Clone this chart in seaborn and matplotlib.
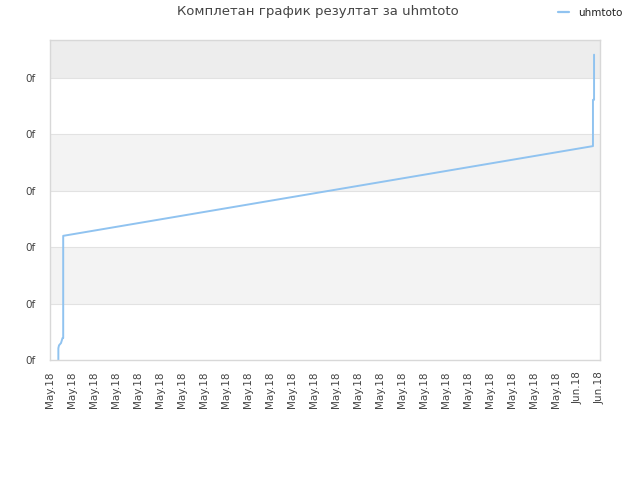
import matplotlib
matplotlib.use("Agg")
import matplotlib.pyplot as plt
import seaborn as sns
import numpy as np
import pandas as pd
from matplotlib.lines import Line2D

title = "Комплетан график резултат за uhmtoto"
series_name = "uhmtoto"
x_labels = ["May.18"] * 24 + ["Jun.18"] * 2
y_labels = ["0f"] * 6
# day offsets from first label, score values
days = [0.38, 0.38, 0.41, 0.50, 0.57, 0.60, 0.60, 0.60, 0.60, 24.68, 24.68, 24.73, 24.73]
scores = [0.00, 0.21, 0.26, 0.30, 0.39, 0.39, 1.0, 1.6, 2.20, 3.79, 4.61, 4.61, 5.41]

sns.set_theme(style="white")
plt.rcParams['font.family'] = ['DejaVu Sans']

fig = plt.figure(figsize=(6.4, 4.8), dpi=100)
ax = fig.add_axes([50/640, 1-360/480, 550/640, 320/480])

ymax = 5.67
band_colors = ["#ffffff", "#f3f3f3"]
edges = list(range(len(y_labels))) + [ymax]
for i in range(len(edges) - 1):
    c = "#ededed" if i == len(edges) - 2 else band_colors[i % 2]
    ax.axhspan(edges[i], edges[i+1], color=c, zorder=0, lw=0)
for i in range(1, len(y_labels)):
    ax.axhline(i, color="#e2e2e2", lw=0.8, zorder=0.5)

df = pd.DataFrame({"day": days, "score": scores, "name": series_name})
sns.lineplot(data=df, x="day", y="score", hue="name", palette=["#90c3f0"],
             estimator=None, sort=False, lw=1.4, ax=ax, legend=False, zorder=2)

ax.set_xlim(0, len(x_labels) - 1)
ax.set_ylim(0, ymax)
ax.set_xticks(np.arange(len(x_labels)))
ax.set_xticklabels(x_labels, rotation=90, fontsize=7.5, color="#444444")
ax.set_yticks(np.arange(len(y_labels)))
ax.set_yticklabels(y_labels, fontsize=7.5, color="#444444")
ax.tick_params(axis="x", length=0, pad=8)
ax.tick_params(axis="y", length=0, pad=10)
ax.set_xlabel("")
ax.set_ylabel("")
for s in ax.spines.values():
    s.set_color("#d8d8d8")
    s.set_linewidth(1)

fig.text(318/640, 1-12/480, title, ha="center", va="center", fontsize=9.5, color="#444444")
fig.legend(handles=[Line2D([0], [0], color="#90c3f0", lw=1.6)], labels=[series_name],
           loc="center left", bbox_to_anchor=(554/640, 1-13/480), frameon=False,
           fontsize=7.5, handlelength=1.06, handletextpad=0.86, borderaxespad=0,
           labelcolor="#222222")

fig.savefig("out.png", dpi=100)
